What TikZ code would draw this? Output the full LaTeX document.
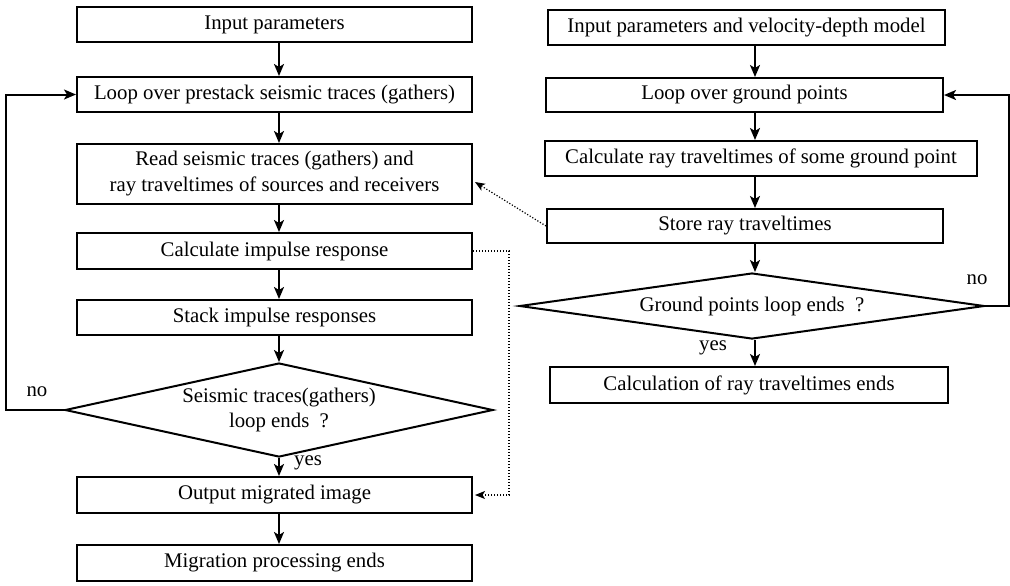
\documentclass[tikz,border=0pt]{standalone}
\usepackage{fontspec}
\setmainfont{Liberation Serif}
\usetikzlibrary{arrows.meta,shapes.geometric}

\tikzset{
  stepbox/.style={draw,line width=1pt,rectangle,inner sep=0pt,minimum height=17.5pt},
  testbox/.style={draw,line width=1pt,diamond,inner sep=0pt,align=center},
  arr/.style={line width=1pt,-{Stealth[length=6pt,width=5pt,inset=1.5pt]}},
  dotarr/.style={line width=0.6pt,dash pattern=on 0.6pt off 0.9pt,
    -{Stealth[length=5pt,width=4pt,inset=1.2pt]}},
  lbl/.style={inner sep=0pt}
}

\begin{document}
\begin{tikzpicture}[x=0.5pt,y=-0.5pt,font=\fontsize{10.4}{13}\selectfont]
  \useasboundingbox (0,0) rectangle (1010,585);
  \coordinate (lspine) at (279,0);
  \coordinate (rspine) at (755,0);

  % migration loop (left)
  \node[stepbox,minimum width=197.5pt] (in1) at (274.5,24.5) {Input parameters};
  \node[stepbox,minimum width=197.5pt] (loop1) at (274.5,94.5) {Loop over prestack seismic traces (gathers)};
  \node[stepbox,minimum width=197.5pt,minimum height=30pt,align=center] (read) at (274.5,174)
    {Read seismic traces (gathers) and\\ray traveltimes of sources and receivers};
  \node[stepbox,minimum width=197.5pt,minimum height=18pt] (imp) at (274.5,251) {Calculate impulse response};
  \node[stepbox,minimum width=197.5pt] (stack) at (274.5,317.5) {Stack impulse responses};
  \node[testbox,aspect=4.55,minimum width=214pt,minimum height=47pt,font=\fontsize{10.4}{12.5}\selectfont] (dia1) at (279,410)
    {Seismic traces(gathers)\\loop ends~~?};
  \node[stepbox,minimum width=197.5pt,minimum height=18pt] (out) at (274.5,495) {Output migrated image};
  \node[stepbox,minimum width=197.5pt,minimum height=18pt] (mig) at (274.5,563) {Migration processing ends};

  % traveltime loop (right)
  \node[stepbox,minimum width=198.5pt] (in2) at (746.5,27.5) {Input parameters and velocity-depth model};
  \node[stepbox,minimum width=198.5pt,minimum height=17pt] (loop2) at (744.5,95) {Loop over ground points};
  \node[stepbox,minimum width=216pt] (calc) at (761,158.5) {Calculate ray traveltimes of some ground point};
  \node[stepbox,minimum width=198pt,minimum height=17pt] (store) at (745,226) {Store ray traveltimes};
  \node[testbox,aspect=7.05,minimum width=232.5pt,minimum height=33pt] (dia2) at (752,306) {Ground points loop ends~~?};
  \node[stepbox,minimum width=199pt,minimum height=18pt] (ends) at (749,385) {Calculation of ray traveltimes ends};

  \node[lbl] (no1) at (37,392) {no};
  \node[lbl] (yes1) at (308,463) {yes};
  \node[lbl] (no2) at (977,280) {no};
  \node[lbl] (yes2) at (713,348) {yes};

  \foreach \a/\b in {in1/loop1,loop1/read,read/imp,imp/stack,stack/dia1,dia1/out,out/mig}
    \draw[arr] (\a.south -| lspine) -- (\b.north -| lspine);
  \foreach \a/\b in {in2/loop2,loop2/calc,calc/store,store/dia2,dia2/ends}
    \draw[arr] (\a.south -| rspine) -- (\b.north -| rspine);

  \draw[arr] (dia1.west) -- ++(-29pt,0) |- (loop1.west);
  \draw[arr] (dia2.east) -- ++(11.5pt,0) |- (loop2.east);

  \draw[dotarr] (store.west) -- ([yshift=-4pt,xshift=1pt]read.east);
  \draw[dotarr] (imp.east) -- ++(18pt,0) |- ([xshift=1pt]out.east);
\end{tikzpicture}
\end{document}
